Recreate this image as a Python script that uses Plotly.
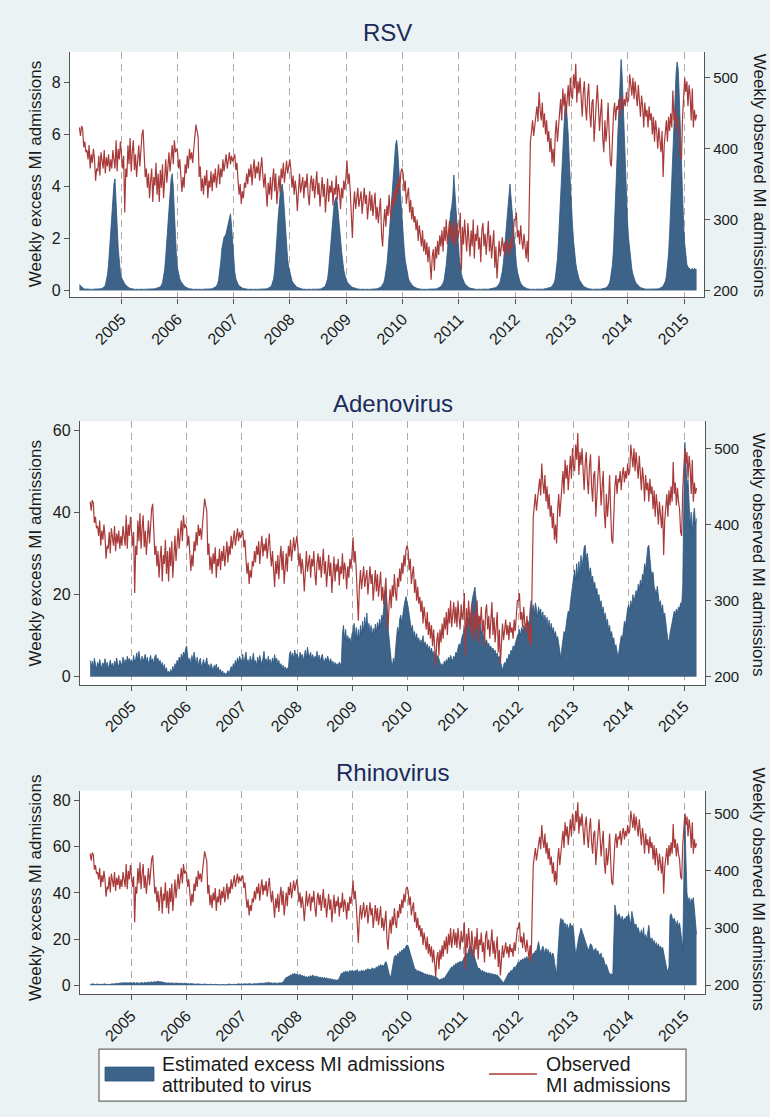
import pandas as pd
import plotly.graph_objects as go

# ---------------- data (weekly, starting Monday 2004-04-05) ----------------
START = "2004-04-05"

OBSERVED_MI = [
    # 2004
    430, 418, 432, 428, 402, 410, 395, 398, 385, 405, 372, 392, 380, 400, 385, 355, 372, 368, 390, 362,
    395, 380, 372, 398, 365, 388, 375, 392, 368, 385, 372, 398, 380, 372, 412, 368, 400, 385, 410,
    # 2005
    395, 372, 390, 310, 372, 360, 405, 378, 415, 368, 395, 412, 370, 392, 360, 385, 405, 375, 398, 420,
    427, 380, 360, 372, 345, 365, 330, 355, 372, 325, 360, 348, 380, 335, 365, 325, 370, 345, 378, 330,
    362, 385, 352, 375, 395, 368, 390, 405, 378, 412, 395, 400,
    # 2006
    395, 372, 385, 350, 339, 360, 345, 378, 365, 390, 372, 400, 385, 395, 380, 400, 420, 434, 425, 418,
    360, 375, 340, 358, 335, 362, 348, 370, 330, 355, 345, 368, 340, 365, 352, 372, 345, 362, 378, 350,
    372, 360, 385, 368, 378, 392, 372, 388, 395, 378, 390, 382,
    # 2007
    388, 392, 370, 380, 355, 335, 350, 322, 340, 330, 352, 345, 365, 350, 372, 360, 378, 348, 370, 385,
    358, 375, 365, 382, 355, 372, 388, 362, 345, 365, 340, 318, 352, 335, 360, 328, 355, 372, 340, 365,
    322, 350, 362, 338, 372, 358, 380, 352, 375, 383, 365, 378, 385,
    # 2008
    370, 345, 362, 335, 355, 340, 312, 348, 365, 338, 352, 360, 330, 355, 345, 365, 335, 320, 350, 362,
    340, 358, 330, 345, 368, 335, 352, 318, 345, 360, 332, 350, 310, 342, 358, 325, 348, 338, 355, 320,
    345, 335, 362, 328, 350, 340, 315, 345, 330, 355, 342, 360,
    # 2009
    383, 350, 365, 340, 298, 274, 320, 340, 315, 335, 345, 318, 330, 340, 308, 325, 345, 322, 335, 300,
    328, 340, 312, 335, 305, 322, 338, 300, 318, 295, 310, 330, 280, 262, 295, 315, 290, 320, 305, 335,
    310, 300, 330, 318, 342, 325, 350, 335, 360, 345, 368, 372,
    # 2010
    365, 340, 355, 322, 335, 345, 310, 328, 300, 318, 296, 305, 285, 300, 270, 292, 278, 262, 285, 255,
    272, 250, 268, 240, 262, 235, 215, 248, 258, 228, 262, 245, 270, 250, 278, 262, 285, 255, 290, 270,
    300, 265, 282, 298, 270, 292, 265, 300, 278, 262, 295, 275,
    # 2011
    285, 310, 228, 290, 265, 300, 275, 255, 295, 270, 248, 285, 262, 300, 245, 280, 270, 292, 258, 275,
    240, 285, 295, 262, 280, 250, 270, 298, 255, 278, 245, 268, 285, 232, 262, 217, 250, 270, 248, 262,
    275, 255, 268, 248, 272, 258, 265, 250, 275, 260, 290, 300,
    # 2012
    300, 310, 275, 285, 265, 292, 270, 258, 280, 262, 245, 270, 240, 330, 410, 425, 440, 418, 435, 445,
    460, 438, 480, 455, 440, 465, 430, 450, 420, 440, 410, 425, 395, 415, 380, 400, 375, 420, 440, 410,
    430, 450, 470, 440, 485, 460, 478, 445, 470, 490, 460, 500, 475,
    # 2013
    470, 505, 485, 520, 465, 495, 478, 500, 470, 445, 480, 495, 460, 440, 475, 492, 450, 430, 465, 470,
    410, 440, 455, 490, 460, 425, 450, 470, 415, 395, 440, 410, 430, 465, 420, 380, 375, 425, 450, 465,
    440, 460, 455, 470, 445, 465, 475, 455, 470, 460, 480, 465,
    # 2014
    470, 505, 485, 475, 500, 470, 495, 480, 460, 490, 470, 445, 475, 460, 430, 465, 445, 455, 430, 460,
    440, 450, 420, 445, 410, 440, 425, 400, 430, 415, 395, 425, 360, 405, 420, 440, 410, 445, 425, 450,
    430, 482, 440, 455, 425, 448, 430, 420, 390, 385, 445, 470,
    # 2015
    500, 480, 495, 460, 490, 475, 440, 485, 430, 455, 440, 448,
]

RSV_EXCESS = [
    # 2004
    0.22, 0.2, 0.15, 0.1, 0.07, 0.05, 0.06, 0.04, 0.05, 0.05, 0.04, 0.05, 0.04, 0.05, 0.05, 0.04, 0.06, 0.05, 0.06, 0.07,
    0.06, 0.08, 0.1, 0.14, 0.2, 0.35, 0.6, 1.0, 1.6, 2.4, 3.1, 3.7, 4.1, 4.3, 3.6, 2.5, 1.6, 1.0, 0.7,
    # 2005
    0.5, 0.4, 0.32, 0.26, 0.2, 0.16, 0.13, 0.1, 0.08, 0.07, 0.06, 0.05, 0.05, 0.04, 0.05, 0.04, 0.05, 0.04, 0.05, 0.04,
    0.05, 0.04, 0.05, 0.05, 0.04, 0.05, 0.05, 0.06, 0.05, 0.06, 0.07, 0.06, 0.08, 0.09, 0.1, 0.12, 0.15, 0.2,
    0.3, 0.5, 0.8, 1.3, 1.9, 2.6, 3.3, 3.9, 4.3, 4.5, 4.0, 3.0, 2.0, 1.3,
    # 2006
    0.85, 0.6, 0.45, 0.35, 0.28, 0.22, 0.18, 0.14, 0.11, 0.09, 0.08, 0.07, 0.06, 0.05, 0.05, 0.04, 0.05, 0.04, 0.05, 0.04,
    0.05, 0.04, 0.05, 0.04, 0.05, 0.05, 0.04, 0.05, 0.05, 0.06, 0.05, 0.06, 0.07, 0.08, 0.1, 0.13, 0.17, 0.25, 0.4, 0.7,
    1.1, 1.6, 1.9, 2.05, 2.1, 2.2, 2.4, 2.6, 2.8, 2.95, 2.5, 1.8,
    # 2007
    1.2, 0.7, 0.45, 0.32, 0.24, 0.18, 0.14, 0.11, 0.09, 0.08, 0.07, 0.06, 0.05, 0.05, 0.04, 0.05, 0.04, 0.05, 0.04, 0.05,
    0.04, 0.05, 0.04, 0.05, 0.05, 0.04, 0.05, 0.05, 0.06, 0.05, 0.06, 0.07, 0.08, 0.1, 0.13, 0.18, 0.28, 0.45,
    0.8, 1.3, 2.0, 2.7, 3.3, 3.7, 4.0, 4.1, 3.7, 3.0, 2.3, 1.7, 1.2, 0.9, 0.7,
    # 2008
    0.5, 0.38, 0.3, 0.24, 0.19, 0.15, 0.12, 0.1, 0.08, 0.07, 0.06, 0.05, 0.05, 0.04, 0.05, 0.04, 0.05, 0.04, 0.05, 0.04,
    0.05, 0.04, 0.05, 0.05, 0.04, 0.05, 0.06, 0.05, 0.07, 0.08, 0.1, 0.13, 0.18, 0.28, 0.45,
    0.8, 1.3, 1.9, 2.5, 3.0, 3.3, 3.5, 3.6, 3.4, 3.0, 2.5, 2.0, 1.5, 1.1, 0.8, 0.6, 0.45,
    # 2009
    0.35, 0.28, 0.22, 0.18, 0.15, 0.12, 0.1, 0.09, 0.08, 0.07, 0.06, 0.05, 0.05, 0.04, 0.05, 0.04, 0.05, 0.04, 0.05, 0.04,
    0.05, 0.04, 0.05, 0.05, 0.04, 0.05, 0.06, 0.06, 0.07, 0.08, 0.1, 0.12, 0.16, 0.22, 0.3, 0.45, 0.7, 1.0,
    1.5, 2.1, 2.8, 3.5, 4.2, 4.8, 5.3, 5.6, 5.8, 5.4, 4.7, 4.0, 3.4, 2.8,
    # 2010
    2.2, 1.6, 1.15, 0.85, 0.62, 0.46, 0.35, 0.27, 0.21, 0.17, 0.14, 0.11, 0.09, 0.08, 0.07, 0.06, 0.05, 0.05, 0.04, 0.05,
    0.04, 0.05, 0.04, 0.05, 0.05, 0.04, 0.05, 0.05, 0.06, 0.05, 0.06, 0.07, 0.08, 0.1, 0.12, 0.15, 0.2, 0.28, 0.4,
    0.65, 1.0, 1.5, 2.1, 2.7, 3.0, 3.2, 3.6, 4.45, 3.9, 3.3, 2.6, 1.9,
    # 2011
    1.3, 0.9, 0.65, 0.48, 0.36, 0.28, 0.22, 0.17, 0.14, 0.11, 0.09, 0.08, 0.07, 0.06, 0.05, 0.05, 0.04, 0.05, 0.04, 0.05,
    0.04, 0.05, 0.04, 0.05, 0.05, 0.04, 0.05, 0.05, 0.06, 0.05, 0.06, 0.07, 0.08, 0.09, 0.11, 0.14, 0.18, 0.25, 0.35, 0.5,
    0.75, 1.1, 1.6, 2.2, 2.8, 3.3, 3.8, 4.1, 3.6, 3.0, 2.4, 1.9,
    # 2012
    1.4, 1.0, 0.72, 0.52, 0.38, 0.28, 0.21, 0.16, 0.13, 0.1, 0.08, 0.07, 0.06, 0.05, 0.05, 0.04, 0.05, 0.04, 0.05, 0.04,
    0.05, 0.04, 0.05, 0.05, 0.04, 0.05, 0.05, 0.06, 0.05, 0.06, 0.07, 0.08, 0.1, 0.12, 0.16, 0.22, 0.3, 0.45,
    0.75, 1.2, 1.9, 2.8, 3.8, 4.8, 5.8, 6.6, 7.1, 7.3, 6.8, 6.0, 5.0, 4.0, 3.2,
    # 2013
    2.5, 1.9, 1.4, 1.05, 0.8, 0.6, 0.46, 0.36, 0.28, 0.22, 0.17, 0.14, 0.11, 0.09, 0.08, 0.07, 0.06, 0.05, 0.05, 0.04,
    0.05, 0.04, 0.05, 0.05, 0.04, 0.05, 0.05, 0.06, 0.06, 0.07, 0.08, 0.1, 0.13, 0.18, 0.26, 0.4, 0.65,
    1.0, 1.6, 2.5, 3.6, 4.8, 6.0, 7.2, 8.2, 8.9, 8.3, 7.0, 5.6, 4.3, 3.3, 2.6,
    # 2014
    2.0, 1.5, 1.1, 0.82, 0.62, 0.47, 0.36, 0.28, 0.22, 0.17, 0.14, 0.11, 0.09, 0.08, 0.07, 0.06, 0.05, 0.05, 0.04, 0.05,
    0.04, 0.05, 0.05, 0.04, 0.05, 0.05, 0.06, 0.06, 0.07, 0.08, 0.1, 0.13, 0.17, 0.24, 0.35, 0.55, 0.9,
    1.4, 2.2, 3.2, 4.3, 5.5, 6.7, 7.8, 8.4, 8.8, 8.5, 7.4, 6.0, 4.6, 3.4, 2.5,
    # 2015
    1.8, 1.3, 1.0, 0.9, 0.85, 0.82, 0.8, 0.85, 0.8, 0.85, 0.82, 0.8,
]

ADENO_EXCESS = [
    # 2004
    4.0, 2.5, 3.8, 2.2, 4.5, 3.0, 1.8, 3.5, 2.6, 4.2, 3.1, 1.9, 3.4, 2.8, 4.4, 2.2, 3.6, 1.7, 3.0, 4.1,
    2.5, 3.3, 2.0, 3.8, 2.9, 4.6, 3.2, 2.4, 4.0, 3.5, 2.7, 4.8, 3.1, 4.2, 2.9, 5.0, 3.8, 4.5, 3.4,
    # 2005
    4.2, 3.0, 5.2, 3.6, 4.4, 5.8, 3.9, 6.2, 4.5, 3.2, 5.0, 3.8, 4.6, 5.5, 3.5, 4.8, 2.9, 4.2, 5.2, 3.6,
    4.4, 3.0, 4.9, 5.4, 3.8, 4.5, 3.3, 4.0, 2.6, 3.5, 2.0, 3.0, 1.5, 2.2, 0.8, 1.4, 0.6, 1.8, 0.9, 2.5,
    1.5, 3.2, 2.4, 4.0, 3.1, 4.8, 3.6, 5.5, 4.2, 6.0, 5.2, 6.8,
    # 2006
    7.5, 5.0, 3.8, 4.5, 2.8, 5.2, 3.6, 6.0, 4.1, 3.0, 4.8, 2.5, 3.9, 4.5, 2.2, 3.6, 4.2, 2.8, 3.4, 4.6,
    2.5, 3.0, 1.8, 3.2, 2.4, 1.5, 2.8, 2.0, 3.1, 1.6, 2.4, 1.2, 1.8, 0.8, 1.4, 0.5, 1.0, 0.3, 0.9, 1.5,
    0.7, 1.8, 2.5, 1.6, 3.2, 2.4, 4.0, 3.0, 4.6, 3.5, 5.0, 4.2,
    # 2007
    3.8, 5.5, 3.0, 4.6, 6.0, 3.5, 4.2, 2.8, 5.0, 3.6, 4.4, 5.8, 3.2, 4.0, 2.6, 4.8, 3.4, 5.2, 4.0, 2.9,
    4.5, 6.2, 3.8, 4.4, 3.0, 5.0, 3.6, 4.2, 2.8, 4.6, 3.3, 5.4, 3.9, 4.5, 3.0, 4.0, 2.5, 3.2, 2.0, 2.8,
    1.8, 2.4, 1.5, 2.2, 1.8, 5.5, 6.2, 4.6, 5.8, 4.2, 6.5, 5.0, 5.6,
    # 2008
    5.0, 4.2, 6.0, 4.8, 5.5, 3.8, 5.2, 6.5, 4.4, 7.2, 5.6, 4.8, 6.0, 4.2, 5.4, 3.9, 5.0, 4.5, 6.2, 4.0,
    5.3, 3.6, 4.8, 5.5, 4.1, 3.5, 4.6, 3.8, 5.0, 4.2, 3.4, 4.4, 3.0, 3.8, 2.6, 3.5, 2.8, 3.2, 2.5, 3.6,
    2.9, 3.4, 10.5, 12.5, 9.0, 11.5, 8.5, 10.0, 8.8, 9.5, 8.0, 10.5,
    # 2009
    11.0, 13.0, 9.5, 12.0, 8.8, 11.5, 9.0, 12.5, 10.0, 13.5, 11.0, 14.5, 12.0, 15.5, 11.5, 13.0, 10.5, 12.5, 9.8, 11.8,
    10.2, 12.8, 10.8, 13.2, 11.6, 14.0, 12.2, 15.0, 14.0, 17.0, 20.5, 21.5, 18.0, 12.0, 9.0, 6.0, 4.0, 2.2, 4.5, 3.0,
    7.0, 9.5, 12.0, 10.5, 14.0, 15.0, 13.0, 16.0, 17.0, 18.5, 19.5, 18.0,
    # 2010
    17.0, 15.0, 13.0, 11.5, 12.5, 10.0, 11.0, 9.0, 10.5, 8.5, 9.5, 7.8, 9.0, 8.0, 10.0, 7.5, 8.5, 7.0, 8.0, 6.5,
    7.5, 6.0, 7.0, 5.5, 6.2, 5.0, 5.8, 4.5, 5.2, 4.0, 3.5, 2.5, 3.2, 2.2, 3.8, 3.0, 4.2, 3.5, 4.8, 4.0,
    5.2, 4.5, 3.8, 5.0, 4.6, 6.0, 5.5, 7.0, 8.0, 7.2, 9.0, 10.0,
    # 2011
    10.5, 12.0, 11.0, 13.5, 12.5, 14.5, 13.0, 16.0, 18.0, 19.5, 21.0, 21.8, 19.0, 17.0, 15.0, 12.5, 13.5, 10.5, 11.5, 9.5,
    10.0, 8.0, 9.0, 7.5, 8.2, 6.8, 7.5, 6.2, 7.0, 5.8, 6.5, 5.2, 5.8, 4.5, 5.0, 3.5, 2.5, 1.5, 2.8, 3.5,
    3.0, 4.5, 4.0, 5.5, 5.0, 6.5, 6.0, 7.5, 7.0, 8.5, 9.0, 10.0,
    # 2012
    10.5, 11.5, 10.0, 12.0, 11.0, 12.5, 11.5, 13.0, 12.0, 13.5, 12.5, 16.5, 18.5, 16.0, 17.5, 15.0, 18.0, 16.5, 14.5, 17.0,
    15.5, 16.5, 14.0, 15.8, 13.5, 15.0, 12.8, 14.5, 12.0, 13.8, 11.5, 13.0, 11.0, 12.0, 10.0, 11.0, 9.0, 9.8, 8.0, 6.0,
    4.5, 7.0, 9.0, 11.0, 10.5, 13.0, 14.5, 16.0, 15.0, 18.0, 20.0, 22.0, 24.5,
    # 2013
    26.0, 23.5, 27.5, 24.0, 28.0, 25.0, 29.5, 26.5, 30.0, 31.5, 32.0, 28.5, 30.0, 27.0, 25.0, 26.5, 23.5, 24.5, 22.0, 23.0,
    20.5, 21.5, 19.0, 20.0, 17.5, 18.5, 16.0, 17.0, 14.5, 15.5, 13.0, 14.0, 11.5, 12.5, 10.0, 11.0, 8.5, 9.5, 7.0, 7.8,
    5.5, 4.5, 6.5, 8.0, 10.0, 9.0, 12.0, 13.5, 12.5, 15.0, 16.5, 17.5,
    # 2014
    16.0, 18.5, 17.0, 20.0, 18.5, 19.5, 21.0, 19.5, 22.5, 21.0, 23.5, 22.0, 25.0, 24.0, 27.5, 26.0, 29.5, 31.5, 32.0, 28.0,
    26.0, 24.5, 25.5, 22.0, 21.0, 20.0, 22.0, 19.0, 17.5, 18.5, 16.0, 17.5, 14.5, 15.5, 12.5, 11.0, 9.0, 8.5, 10.5, 12.0,
    13.5, 14.5, 16.0, 15.0, 16.5, 15.5, 17.0, 16.5, 18.0, 17.5, 22.0, 42.0,
    # 2015
    57.0, 52.0, 46.0, 48.0, 42.0, 36.5, 40.0, 35.0, 39.0, 41.0, 37.0, 38.5,
]

RHINO_EXCESS = [
    # 2004
    0.5, 0.3, 0.6, 0.4, 0.5, 0.3, 0.4, 0.6, 0.3, 0.5, 0.4, 0.3, 0.5, 0.4, 0.6, 0.3, 0.5, 0.4, 0.3, 0.5,
    0.4, 0.6, 0.5, 0.7, 0.6, 0.8, 0.7, 0.9, 0.8, 1.0, 0.9, 1.1, 0.9, 1.2, 1.0, 0.9, 1.1, 1.0, 1.2,
    # 2005
    1.1, 0.9, 1.2, 1.0, 0.8, 1.1, 0.9, 1.0, 0.8, 1.2, 1.0, 0.9, 1.1, 1.3, 1.0, 1.2, 1.4, 1.1, 1.3, 1.5,
    1.2, 1.4, 1.6, 1.3, 1.5, 1.8, 1.4, 1.6, 1.3, 1.5, 1.2, 1.1, 1.3, 1.0, 0.9, 1.1, 0.8, 1.0, 0.9, 0.7,
    0.9, 0.8, 1.0, 0.8, 0.7, 0.9, 0.8, 0.6, 0.8, 0.7, 0.9, 0.7,
    # 2006
    0.7, 0.6, 0.8, 0.5, 0.7, 0.6, 0.5, 0.7, 0.6, 0.4, 0.6, 0.5, 0.4, 0.6, 0.5, 0.3, 0.5, 0.4, 0.3, 0.5,
    0.4, 0.3, 0.4, 0.3, 0.5, 0.4, 0.3, 0.4, 0.3, 0.2, 0.4, 0.3, 0.2, 0.3, 0.4, 0.3, 0.2, 0.3, 0.4, 0.3,
    0.4, 0.5, 0.3, 0.4, 0.5, 0.4, 0.3, 0.5, 0.4, 0.6, 0.5, 0.4,
    # 2007
    0.5, 0.4, 0.6, 0.5, 0.4, 0.6, 0.5, 0.7, 0.5, 0.6, 0.4, 0.6, 0.5, 0.7, 0.6, 0.8, 0.6, 0.7, 0.9, 0.7,
    0.8, 1.0, 0.8, 1.2, 0.9, 1.3, 1.0, 0.9, 1.1, 0.8, 1.0, 0.9, 0.7, 0.9, 0.8, 1.0, 0.9, 1.1, 1.0, 1.4,
    2.0, 2.8, 3.5, 3.2, 4.0, 3.8, 4.5, 4.2, 5.0, 4.6, 5.2, 4.4, 4.8,
    # 2008
    4.6, 4.2, 4.8, 3.9, 4.4, 3.6, 4.1, 3.4, 3.8, 3.3, 3.9, 3.5, 4.2, 3.7, 4.4, 3.9, 3.6, 4.1, 3.4, 3.8,
    3.2, 3.6, 3.1, 3.5, 3.0, 3.4, 2.8, 3.3, 2.6, 3.0, 2.5, 2.9, 2.3, 2.7, 2.1, 2.5, 2.0, 2.4, 2.2, 3.0,
    4.0, 5.2, 5.0, 5.8, 5.4, 6.2, 5.6, 6.0, 5.5, 6.4, 5.8, 6.5,
    # 2009
    6.2, 5.5, 6.5, 5.8, 6.8, 5.4, 6.2, 5.6, 6.6, 5.9, 6.4, 5.7, 6.9, 6.3, 7.2, 6.5, 7.0, 6.4, 7.6, 6.8,
    7.4, 6.6, 8.0, 7.2, 8.6, 7.8, 9.0, 8.2, 8.8, 8.0, 9.5, 10.3, 9.0, 7.0, 5.0, 3.0, 4.5, 7.5, 10.0, 12.5,
    13.0, 12.0, 13.8, 13.2, 14.6, 14.0, 15.3, 14.8, 16.0, 15.5, 17.0, 17.5,
    # 2010
    17.0, 15.5, 13.5, 11.5, 10.0, 8.5, 7.4, 7.0, 6.5, 6.0, 6.3, 5.6, 5.9, 5.2, 5.5, 4.8, 5.0, 4.5, 4.8, 4.2,
    4.6, 4.0, 4.4, 3.8, 4.1, 3.5, 3.8, 3.2, 3.0, 2.5, 2.2, 2.8, 2.4, 3.2, 2.9, 3.6, 4.0, 4.8, 5.5, 6.5,
    7.0, 8.0, 7.5, 8.8, 8.2, 9.5, 9.0, 10.0, 9.2, 10.5, 9.8, 10.2,
    # 2011
    11.0, 12.5, 11.5, 14.0, 13.0, 15.5, 16.5, 17.5, 16.0, 14.5, 12.5, 11.0, 9.5, 8.0, 7.0, 7.5, 6.5, 6.0, 6.5, 5.5,
    6.0, 5.2, 5.6, 5.0, 5.4, 4.8, 5.2, 4.6, 5.0, 4.4, 4.8, 4.2, 4.5, 3.8, 3.5, 2.8, 2.0, 1.5, 1.0, 2.0,
    3.0, 3.8, 4.5, 5.5, 5.2, 6.5, 6.0, 7.2, 8.0, 7.5, 8.8, 9.2,
    # 2012
    10.2, 9.5, 11.0, 10.5, 11.5, 10.8, 12.0, 11.2, 12.5, 11.0, 11.8, 12.5, 11.5, 13.0, 14.0, 13.5, 15.0, 14.5, 16.5, 18.9,
    16.0, 14.0, 15.5, 17.0, 15.5, 13.5, 16.0, 14.0, 15.5, 13.0, 14.5, 12.0, 14.0, 13.5, 10.0, 6.5, 4.5, 12.0, 22.0, 26.0,
    29.0, 27.5, 28.5, 26.0, 27.0, 24.5, 26.5, 24.0, 25.5, 27.0, 25.0, 26.0, 24.0,
    # 2013
    18.0, 13.0, 15.5, 19.0, 21.0, 22.5, 24.7, 23.5, 22.0, 20.0, 18.5, 17.0, 15.5, 15.0, 16.5, 18.0, 17.5, 16.0, 14.5, 15.5,
    16.0, 14.0, 15.0, 13.5, 12.5, 14.0, 11.5, 12.0, 10.0, 8.5, 9.0, 7.0, 6.0, 5.2, 4.5, 5.0, 4.0, 20.0, 34.8, 32.0,
    29.0, 30.5, 31.0, 29.5, 28.0, 30.0, 27.5, 29.0, 28.5, 30.0, 29.5, 31.0,
    # 2014
    28.0, 26.0, 32.0, 29.0, 27.0, 25.5, 26.5, 24.0, 25.0, 23.0, 22.0, 24.0, 21.0, 25.0, 20.0, 22.0, 19.5, 23.0, 26.0, 21.0,
    19.0, 20.5, 18.0, 19.5, 17.0, 18.5, 16.5, 18.0, 16.0, 17.0, 15.5, 16.5, 14.0, 12.0, 9.0, 7.0, 6.0, 8.0, 30.0, 31.0,
    29.5, 28.0, 29.0, 27.0, 26.0, 28.0, 25.0, 27.0, 24.0, 20.0, 15.0, 40.0,
    # 2015
    74.0, 55.0, 40.0, 36.0, 38.0, 35.0, 37.5, 36.0, 38.0, 33.0, 26.0, 22.0,
]

PANEL_TITLES = ["RSV", "Adenovirus", "Rhinovirus"]
EXCESS_SERIES = [RSV_EXCESS, ADENO_EXCESS, RHINO_EXCESS]
LEFT_TICKS = [[0, 2, 4, 6, 8], [0, 20, 40, 60], [0, 20, 40, 60, 80]]
RIGHT_TICKS = [200, 300, 400, 500]
YEAR_TICKS = list(range(2005, 2016))
YEAR_LABELS = [str(y) for y in YEAR_TICKS]
LEFT_TITLE = "Weekly excess MI admissions"
RIGHT_TITLE = "Weekly observed MI admissions"
LEGEND_AREA = ["Estimated excess MI admissions", "attributed to virus"]
LEGEND_LINE = ["Observed", "MI admissions"]

# ---------------- styling / layout ----------------
W, H = 770, 1117
BG = "#eaf2f3"
FILL = "#3e6388"
EDGE = "#2a5580"
RED = "#a83a3a"
AX = "#555555"
TXT = "#1a1a1a"
NAVY = "#1c2b5a"
FONT = "Liberation Sans, Arial, Helvetica, sans-serif"

def py(pix):  # pixel from top -> paper y
    return 1 - pix / H

def px(pix):
    return pix / W

panels = [
    dict(x=(70, 704), y=(52, 298), xr=["2004-02-04", "2015-05-10"], yl=[-0.27, 9.19], yr=[190.1, 536.6],
         title_y=33, ytitle=175),
    dict(x=(80, 705), y=(422, 686), xr=["2004-01-29", "2015-05-18"], yl=[-1.94, 62.14], yr=[189.5, 535.5],
         title_y=404, ytitle=555),
    dict(x=(80, 705), y=(792, 996), xr=["2004-01-29", "2015-05-18"], yl=[-3.9, 84.4], yr=[184.3, 540.3],
         title_y=774, ytitle=890),
]

fig = go.Figure()
layout = dict(
    width=W, height=H, margin=dict(l=0, r=0, t=0, b=0),
    paper_bgcolor=BG, plot_bgcolor="white", showlegend=False,
    font=dict(family=FONT, size=16, color=TXT),
)
annotations = []
shapes = []

year_dates = [pd.Timestamp(f"{y}-01-01") for y in YEAR_TICKS]

for i, p in enumerate(panels):
    n = i + 1
    xa = "x" if n == 1 else f"x{n}"
    yl_name = 2 * i + 1
    yr_name = 2 * i + 2
    yl = "y" if yl_name == 1 else f"y{yl_name}"
    yr = f"y{yr_name}"

    ex = EXCESS_SERIES[i]
    d_ex = pd.date_range(START, periods=len(ex), freq="7D")
    d_ob = pd.date_range(START, periods=len(OBSERVED_MI), freq="7D")

    fig.add_trace(go.Scatter(x=d_ex, y=ex, mode="lines", fill="tozeroy", fillcolor=FILL,
                             line=dict(color=EDGE, width=0.8), xaxis=xa, yaxis=yl,
                             name="Estimated excess MI admissions attributed to virus"))
    fig.add_trace(go.Scatter(x=d_ob, y=OBSERVED_MI, mode="lines",
                             line=dict(color=RED, width=1.2), xaxis=xa, yaxis=yr,
                             name="Observed MI admissions"))

    xkey = "xaxis" if n == 1 else f"xaxis{n}"
    ylkey = "yaxis" if yl_name == 1 else f"yaxis{yl_name}"
    yrkey = f"yaxis{yr_name}"

    layout[xkey] = dict(
        domain=[px(p["x"][0]), px(p["x"][1])], anchor=yl, type="date", range=p["xr"],
        tickmode="array", tickvals=year_dates, ticktext=YEAR_LABELS, tickangle=-45,
        ticks="outside", ticklen=5, tickcolor=AX, tickwidth=1,
        showline=True, linecolor=AX, linewidth=1.3,
        showgrid=True, gridcolor="#b0a8a8", griddash="7px,5px", gridwidth=1,
        zeroline=False, tickfont=dict(size=16, color=TXT),
    )
    layout[ylkey] = dict(
        domain=[py(p["y"][1]), py(p["y"][0])], anchor=xa, range=p["yl"],
        tickmode="array", tickvals=LEFT_TICKS[i], ticks="outside", ticklen=5,
        tickcolor=AX, tickwidth=1, showline=True, linecolor=AX, linewidth=1.3,
        showgrid=False, zeroline=False, tickfont=dict(size=16, color=TXT),
    )
    layout[yrkey] = dict(
        overlaying=yl, side="right", anchor=xa, range=p["yr"],
        tickmode="array", tickvals=RIGHT_TICKS, ticks="outside", ticklen=5,
        tickcolor=AX, tickwidth=1, showline=True, linecolor=AX, linewidth=1.3,
        showgrid=False, zeroline=False, tickfont=dict(size=15, color=TXT),
    )

    cx = (p["x"][0] + p["x"][1]) / 2
    annotations.append(dict(text=PANEL_TITLES[i], x=px(cx), y=py(p["title_y"]), xref="paper", yref="paper",
                            showarrow=False, xanchor="center", yanchor="middle",
                            font=dict(size=24, color=NAVY, family=FONT)))
    annotations.append(dict(text=LEFT_TITLE, x=px(35.5), y=py(p["ytitle"]), xref="paper", yref="paper",
                            showarrow=False, xanchor="center", yanchor="middle", textangle=-90,
                            font=dict(size=17, color=TXT, family=FONT)))
    annotations.append(dict(text=RIGHT_TITLE, x=px(759), y=py(p["ytitle"]), xref="paper", yref="paper",
                            showarrow=False, xanchor="center", yanchor="middle", textangle=90,
                            font=dict(size=17, color=TXT, family=FONT)))

# legend box
shapes.append(dict(type="rect", xref="paper", yref="paper", x0=px(99), x1=px(686), y0=py(1103), y1=py(1051),
                   fillcolor="white", line=dict(color="#6a6a6a", width=1.2), layer="above"))
shapes.append(dict(type="rect", xref="paper", yref="paper", x0=px(105), x1=px(154), y0=py(1083), y1=py(1069),
                   fillcolor=FILL, line=dict(color=EDGE, width=0.8), layer="above"))
shapes.append(dict(type="line", xref="paper", yref="paper", x0=px(489), x1=px(537), y0=py(1076), y1=py(1076),
                   line=dict(color=RED, width=1.5), layer="above"))
for k, (txt, xx) in enumerate([(LEGEND_AREA[0], 160), (LEGEND_AREA[1], 160), (LEGEND_LINE[0], 544), (LEGEND_LINE[1], 544)]):
    yy = 1066 if k % 2 == 0 else 1087
    annotations.append(dict(text=txt, x=px(xx), y=py(yy), xref="paper", yref="paper", showarrow=False,
                            xanchor="left", yanchor="middle", font=dict(size=19.5, color=TXT, family=FONT)))

layout["annotations"] = annotations
layout["shapes"] = shapes
fig.update_layout(**layout)
fig.write_html(
    "out.html",
    config={"displayModeBar": False},
    post_script="document.body.style.margin='0';document.body.style.padding='0';"
                "document.body.style.background='#eaf2f3';document.body.style.overflow='hidden';",
)
